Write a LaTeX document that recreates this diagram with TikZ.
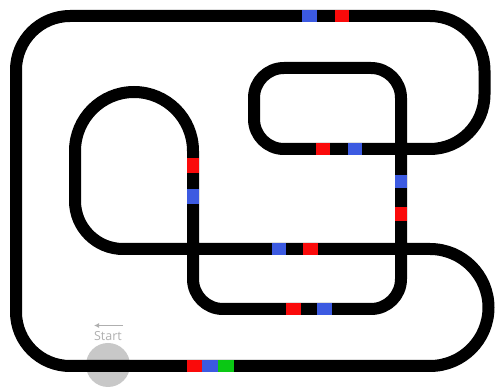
\documentclass[tikz,border=0pt]{standalone}
\usepackage{fontspec}
\newfontfamily\labelfont{Open Sans}
\usetikzlibrary{arrows.meta}
\definecolor{trkred}{RGB}{250,10,10}
\definecolor{trkblue}{RGB}{60,90,225}
\definecolor{trkgreen}{RGB}{10,200,20}
\definecolor{startgray}{RGB}{200,200,200}
\definecolor{textgray}{RGB}{175,175,175}
\tikzset{
  track/.style={line width=12pt, line join=round, draw=black},
  hmark/.style={fill=#1, draw=none},
  vmark/.style={fill=#1, draw=none},
}
\newcommand{\hmk}[4]{\fill[#1] (#2,#4-6) rectangle (#3,#4+6);}
\newcommand{\vmk}[4]{\fill[#1] (#4-6,#2) rectangle (#4+6,#3);}
\begin{document}
\begin{tikzpicture}[x=1pt,y=-1pt]
\useasboundingbox (0,0) rectangle (499,387);
% start marker
\fill[startgray] (108,365) circle[radius=22];
\node[text=textgray, font=\labelfont\fontsize{12.5}{14}\selectfont] (start) at (108,336) {Start};
\coordinate (arrs) at (123,325.5);
\coordinate (arre) at (94,325.5);
\draw[textgray, line width=1.6pt, -{Latex[length=5pt,width=5pt]}] (arrs) -- (arre);
% track
\draw[track] (430,366) -- (70,366)
  arc[start angle=90, end angle=180, radius=54] -- (16,70)
  arc[start angle=180, end angle=270, radius=54] -- (430,16)
  arc[start angle=270, end angle=360, radius=54.5] -- (484.5,94.5)
  arc[start angle=0, end angle=90, radius=54.5] -- (284,149)
  arc[start angle=90, end angle=180, radius=30] -- (254,98)
  arc[start angle=180, end angle=270, radius=30] -- (371,68)
  arc[start angle=270, end angle=360, radius=30] -- (401,279)
  arc[start angle=0, end angle=90, radius=30] -- (223,309)
  arc[start angle=90, end angle=180, radius=30] -- (193,151)
  arc[start angle=0, end angle=-180, radius=59] -- (75,201)
  arc[start angle=180, end angle=90, radius=48] -- (430,249)
  arc[start angle=-90, end angle=90, radius=58.5] -- cycle;
% markers
\hmk{trkblue}{302}{317}{16}
\hmk{trkred}{335}{349}{16}
\hmk{trkred}{316}{330}{149}
\hmk{trkblue}{348}{362}{149}
\vmk{trkblue}{175}{188}{401}
\vmk{trkred}{207}{221}{401}
\hmk{trkblue}{272}{286}{249}
\hmk{trkred}{303}{318}{249}
\hmk{trkred}{286}{301}{309}
\hmk{trkblue}{317}{332}{309}
\vmk{trkred}{158}{173}{193}
\vmk{trkblue}{189}{204}{193}
\hmk{trkred}{187}{202}{366}
\hmk{trkblue}{202}{218}{366}
\hmk{trkgreen}{218}{234}{366}
\end{tikzpicture}
\end{document}
